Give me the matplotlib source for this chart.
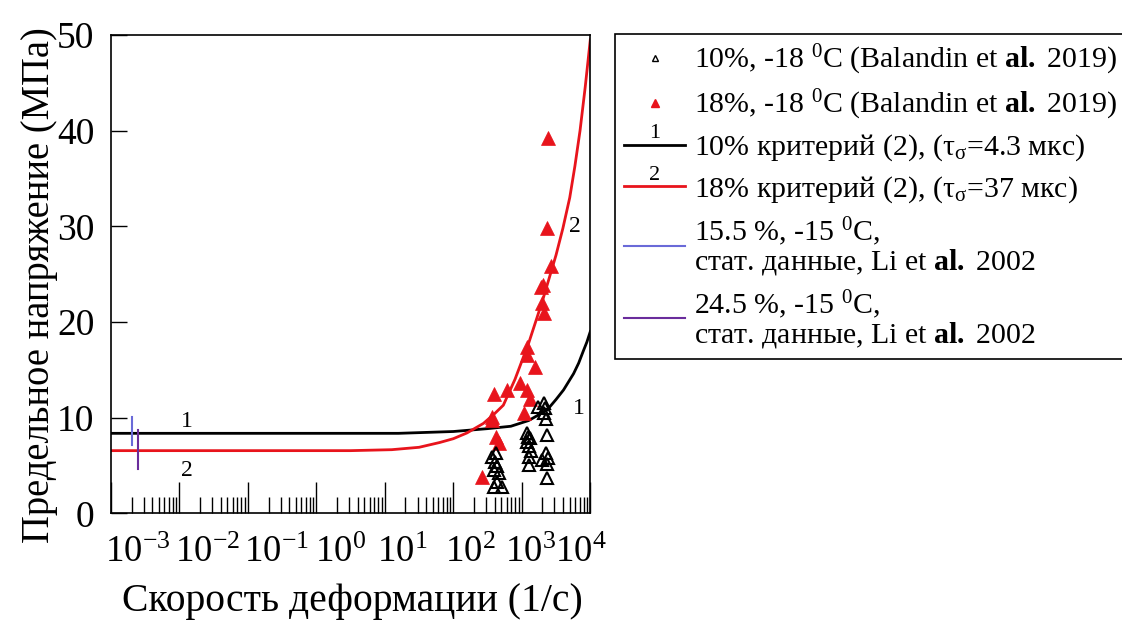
import matplotlib
matplotlib.use("Agg")
import matplotlib.pyplot as plt
from matplotlib.lines import Line2D
from matplotlib.text import Text
from matplotlib.legend_handler import HandlerLine2D
from matplotlib.ticker import LogLocator, NullFormatter

plt.rcParams["font.family"] = ["Liberation Serif", "DejaVu Serif"]
plt.rcParams["mathtext.fontset"] = "custom"
plt.rcParams["mathtext.rm"] = "Liberation Serif"
plt.rcParams["mathtext.it"] = "Liberation Serif:italic"
plt.rcParams["mathtext.bf"] = "Liberation Serif:bold"

# criterion (2) curves: strain rate (1/s) -> stress (MPa)
crit10_rate = [1e-3, 15.8, 100, 316, 692, 1260, 2340, 3160, 4070, 5700,
               6760, 7940, 8910, 1e4]
crit10_stress = [8.36, 8.36, 8.55, 8.85, 9.1, 9.7, 10.8, 11.9, 12.9, 14.6,
                 15.7, 17.0, 17.9, 19.0]

crit18_rate = [1e-3, 3.16, 12.6, 31.6, 63.1, 100, 158, 275, 398, 537, 794,
               1260, 2000, 3160, 3980, 5010, 5960, 7080, 8410, 1e4]
crit18_stress = [6.55, 6.55, 6.65, 6.9, 7.4, 7.8, 8.4, 9.4, 10.4, 11.3, 14.0,
                 17.8, 22.2, 27.0, 29.8, 33.0, 36.3, 40.0, 44.5, 49.5]

# Balandin et al. 2019, 10 %, -18 C (open triangles)
exp10_rate = [363, 407, 437, 389, 457, 437, 389, 513, 420,
              1200, 1320, 1175, 1260, 1350, 1260, 1290, 1230,
              2090, 2190, 2090, 2240, 2340, 2240, 1950, 2450, 2340, 2340, 1740]
exp10_stress = [5.9, 5.4, 4.9, 4.5, 4.2, 3.3, 2.8, 2.8, 6.3,
                8.4, 7.9, 7.5, 7.0, 6.5, 5.9, 5.1, 8.0,
                11.5, 11.0, 10.5, 9.9, 8.2, 6.3, 5.6, 5.75, 5.2, 3.7, 11.1]

# Balandin et al. 2019, 18 %, -18 C (filled triangles)
exp18_rate = [263, 363, 389, 372, 426, 457, 603, 955, 1200, 1320, 1070,
              1580, 1200, 1200, 1950, 2090, 2040, 1900, 2630, 2340, 2450]
exp18_stress = [3.8, 10.1, 12.5, 9.8, 8.0, 7.3, 12.9, 13.6, 12.9, 12.0, 10.5,
                15.3, 17.4, 16.6, 22.0, 20.9, 23.9, 23.7, 25.8, 29.8, 39.2]

# Li et al. 2002, static data (vertical bars)
li155_rate = [2.0e-3, 2.0e-3]
li155_stress = [7.1, 10.1]
li245_rate = [2.5e-3, 2.5e-3]
li245_stress = [4.6, 8.7]

xtick_labels = [r"$10^{-3}$", r"$10^{-2}$", r"$10^{-1}$", r"$10^{0}$",
                r"$10^{1}$", r"$10^{2}$", r"$10^{3}$", r"$10^{4}$"]
xlabel_pos = [0.055, 0.201, 0.345, 0.478, 0.608, 0.750, 0.875, 0.981]
yticks = [0, 10, 20, 30, 40, 50]

RED = "#e8141c"
BLUE = "#6a6ad8"
PURPLE = "#6a2c9c"


class NumberedLine(HandlerLine2D):
    def __init__(self, num, **kw):
        super().__init__(**kw)
        self.num = num

    def create_artists(self, legend, orig_handle, xdescent, ydescent,
                       width, height, fontsize, trans):
        arts = super().create_artists(legend, orig_handle, xdescent, ydescent,
                                      width, height, fontsize, trans)
        t = Text(width / 2 - xdescent, (height - ydescent) / 2 + 1, self.num,
                 ha="center", va="bottom", fontsize=16,
                 family="Liberation Serif")
        t.set_transform(trans)
        return list(arts) + [t]


fig = plt.figure(figsize=(11.22, 6.23), dpi=100)
ax = fig.add_axes([111 / 1122, 1 - 513.3 / 623, 479.3 / 1122, 478.3 / 623])

ax.plot(crit10_rate, crit10_stress, color="black", lw=2)
ax.plot(crit18_rate, crit18_stress, color=RED, lw=2)
ax.plot(li155_rate, li155_stress, color=BLUE, lw=1.5)
ax.plot(li245_rate, li245_stress, color=PURPLE, lw=1.5)
ax.plot(exp18_rate, exp18_stress, ls="none", marker="^", ms=10,
        mfc=RED, mec=RED, mew=0.5)
ax.plot(exp10_rate, exp10_stress, ls="none", marker="^", ms=9,
        mfc="none", mec="black", mew=1.5)

ax.set_xscale("log")
ax.set_xlim(1e-3, 1e4)
ax.set_ylim(0, 50)
ax.set_yticks(yticks)
ax.xaxis.set_major_locator(LogLocator(base=10, numticks=20))
ax.xaxis.set_minor_locator(LogLocator(base=10, subs=range(2, 10), numticks=20))
ax.xaxis.set_minor_formatter(NullFormatter())
ax.tick_params(axis="x", which="major", direction="in", length=22, width=1,
               labelbottom=False)
ax.tick_params(axis="x", which="minor", direction="in", length=11.5, width=1)
ax.tick_params(axis="y", direction="in", length=11.5, width=1, pad=12,
               labelsize=27)
for s in ax.spines.values():
    s.set_linewidth(1.2)

for lab, pos in zip(xtick_labels, xlabel_pos):
    ax.text(pos, -0.083, lab, transform=ax.transAxes, ha="center", va="center",
            fontsize=26.5)

# curve numbers
ax.text(0.013, 9.6, "1", fontsize=17, ha="center", va="center")
ax.text(0.013, 4.5, "2", fontsize=17, ha="center", va="center")
ax.text(6000, 30.0, "2", fontsize=17, ha="center", va="center")
ax.text(6760, 11.0, "1", fontsize=17, ha="center", va="center")

fig.text(352 / 1122, 1 - 601 / 623, "Скорость деформации (1/с)",
         ha="center", va="center", fontsize=28.5)
fig.text(40 / 1122, 1 - 285 / 623, "Предельное напряжение (МПа)",
         ha="center", va="center", rotation=90, fontsize=27.8)

handles = [
    Line2D([], [], ls="none", marker="^", ms=5, mfc="none", mec="black", mew=1),
    Line2D([], [], ls="none", marker="^", ms=6, mfc=RED, mec=RED),
    Line2D([], [], color="black", lw=2),
    Line2D([], [], color=RED, lw=2),
    Line2D([], [], color=BLUE, lw=1.5),
    Line2D([], [], color=PURPLE, lw=1.5),
]
labels = [
    r"10%, -18 $^{0}$C (Balandin et $\mathbf{al.}$ 2019)",
    r"18%, -18 $^{0}$C (Balandin et $\mathbf{al.}$ 2019)",
    r"10% критерий (2), (τ$_{\mathrm{σ}}$=4.3 мкс)",
    r"18% критерий (2), (τ$_{\mathrm{σ}}$=37 мкс)",
    "15.5 %, -15 $^{0}$C,\nстат. данные, Li et $\\mathbf{al.}$ 2002",
    "24.5 %, -15 $^{0}$C,\nстат. данные, Li et $\\mathbf{al.}$ 2002",
]
leg = fig.legend(handles, labels, loc="upper left",
                 bbox_to_anchor=(615 / 1122, 1 - 34 / 623),
                 bbox_transform=fig.transFigure, borderaxespad=0,
                 fontsize=21.5, frameon=True, fancybox=False,
                 edgecolor="black", framealpha=1, numpoints=1,
                 handlelength=2.05, handletextpad=0.3, borderpad=0.3,
                 labelspacing=0.36,
                 handler_map={handles[2]: NumberedLine("1"),
                              handles[3]: NumberedLine("2")})
leg.get_frame().set_linewidth(1.2)
for t in leg.get_texts():
    t.set_linespacing(0.95)

fig.savefig("out.png", dpi=100)
